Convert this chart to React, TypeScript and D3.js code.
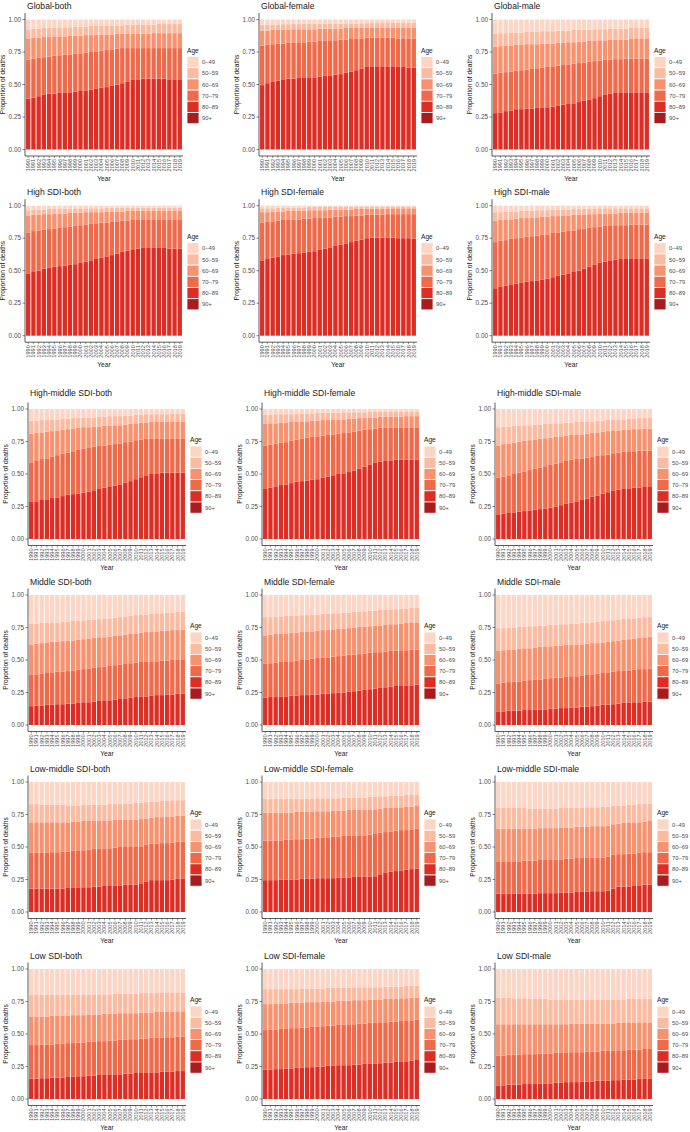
import React from 'react';
import * as d3 from 'd3';

// Proportion of deaths by age group, stacked per year (1990-2019)
const years = [
  1990, 1991, 1992, 1993, 1994, 1995, 1996, 1997, 1998, 1999,
  2000, 2001, 2002, 2003, 2004, 2005, 2006, 2007, 2008, 2009,
  2010, 2011, 2012, 2013, 2014, 2015, 2016, 2017, 2018, 2019,
];

const ageGroups = ['0–49', '50–59', '60–69', '70–79', '80–89', '90+'];
const ageColors = ['#FCD5C5', '#FABBA1', '#F6926F', '#EE6A4B', '#DD2E26', '#A81B1F'];
const yTicks = [0, 0.25, 0.5, 0.75, 1];

// cumulative tops, bottom up: [80-89 top, 70-79 top, 60-69 top, 50-59 top]; 0-49 fills to 1
const globalBoth = [
  [.39, .40, .41, .42, .43, .43, .435, .435, .44, .445, .45, .455, .46, .47, .475, .48, .49, .50, .51, .52, .535, .54, .545, .545, .545, .545, .545, .54, .54, .54],
  [.69, .70, .705, .71, .715, .72, .725, .73, .73, .735, .74, .745, .75, .755, .76, .765, .77, .775, .78, .78, .78, .78, .78, .78, .78, .78, .78, .78, .78, .78],
  [.855, .86, .86, .865, .865, .87, .87, .87, .875, .875, .875, .88, .88, .88, .885, .885, .885, .89, .89, .89, .89, .89, .89, .89, .895, .895, .895, .895, .895, .895],
  [.925, .93, .93, .935, .935, .935, .94, .94, .94, .945, .945, .945, .95, .95, .95, .955, .955, .955, .955, .96, .96, .96, .96, .96, .96, .965, .965, .965, .965, .965],
];
const globalFemale = [
  [.495, .51, .52, .53, .54, .545, .545, .55, .55, .55, .555, .56, .565, .57, .575, .58, .59, .60, .61, .62, .635, .635, .64, .64, .64, .64, .635, .635, .63, .63],
  [.80, .805, .81, .815, .815, .82, .82, .825, .825, .83, .83, .835, .835, .84, .84, .845, .845, .85, .855, .855, .86, .86, .86, .86, .86, .86, .855, .855, .855, .855],
  [.915, .915, .92, .92, .92, .92, .925, .925, .925, .925, .925, .93, .93, .93, .93, .93, .935, .935, .935, .935, .935, .935, .935, .935, .935, .935, .935, .935, .935, .935],
  [.96, .96, .962, .962, .964, .964, .965, .965, .966, .966, .967, .967, .968, .968, .969, .969, .97, .97, .97, .971, .972, .972, .973, .973, .973, .974, .974, .974, .975, .975],
];
const globalMale = [
  [.28, .285, .295, .30, .31, .31, .315, .315, .32, .32, .325, .33, .34, .345, .35, .355, .365, .375, .385, .395, .41, .42, .43, .435, .44, .44, .44, .44, .44, .44],
  [.585, .59, .595, .60, .605, .61, .615, .62, .625, .63, .635, .64, .645, .65, .655, .66, .665, .67, .675, .68, .685, .69, .69, .695, .695, .70, .70, .70, .70, .70],
  [.79, .795, .80, .80, .805, .805, .81, .81, .81, .815, .815, .815, .82, .82, .825, .825, .83, .83, .835, .835, .84, .84, .845, .845, .845, .845, .85, .85, .85, .85],
  [.89, .895, .895, .90, .90, .90, .905, .905, .905, .91, .91, .91, .915, .915, .915, .92, .92, .92, .92, .925, .925, .925, .93, .93, .93, .93, .935, .935, .935, .935],
];
const highBoth = [
  [.475, .49, .50, .515, .525, .53, .535, .54, .545, .55, .56, .57, .58, .59, .60, .61, .62, .63, .645, .655, .665, .67, .675, .675, .675, .675, .675, .67, .67, .67],
  [.795, .805, .81, .815, .82, .825, .83, .835, .84, .845, .85, .855, .86, .865, .87, .87, .875, .88, .885, .885, .89, .89, .89, .89, .89, .89, .89, .89, .89, .89],
  [.925, .93, .93, .935, .935, .94, .94, .94, .945, .945, .945, .95, .95, .95, .95, .955, .955, .955, .955, .96, .96, .96, .96, .96, .96, .96, .96, .96, .96, .96],
  [.965, .97, .97, .97, .975, .975, .975, .975, .975, .98, .98, .98, .98, .98, .98, .985, .985, .985, .985, .985, .985, .985, .985, .985, .985, .985, .985, .985, .985, .985],
];
const highFemale = [
  [.575, .59, .60, .61, .62, .625, .63, .635, .64, .645, .65, .66, .67, .68, .69, .70, .71, .72, .73, .74, .75, .755, .755, .755, .755, .755, .75, .75, .75, .745],
  [.87, .875, .88, .885, .89, .89, .895, .895, .90, .90, .905, .905, .91, .91, .915, .915, .92, .92, .925, .925, .93, .93, .93, .93, .935, .935, .935, .935, .935, .935],
  [.95, .95, .955, .955, .955, .96, .96, .96, .96, .965, .965, .965, .965, .97, .97, .97, .97, .97, .975, .975, .975, .975, .975, .975, .975, .98, .98, .98, .98, .98],
  [.98, .98, .98, .985, .985, .985, .985, .985, .985, .99, .99, .99, .99, .99, .99, .99, .99, .99, .99, .99, .99, .99, .99, .99, .99, .99, .99, .99, .99, .99],
];
const highMale = [
  [.365, .375, .385, .395, .40, .41, .415, .42, .425, .43, .44, .45, .46, .47, .48, .49, .50, .515, .53, .545, .56, .57, .58, .585, .59, .59, .59, .595, .595, .595],
  [.72, .73, .735, .745, .75, .755, .76, .765, .77, .775, .78, .79, .795, .80, .805, .81, .82, .825, .83, .835, .84, .845, .85, .85, .85, .85, .855, .855, .855, .855],
  [.885, .89, .895, .895, .90, .905, .905, .91, .91, .915, .915, .92, .92, .925, .925, .93, .93, .93, .935, .935, .94, .94, .94, .94, .945, .945, .945, .945, .945, .945],
  [.95, .95, .955, .955, .955, .96, .96, .96, .965, .965, .965, .97, .97, .97, .97, .975, .975, .975, .975, .975, .98, .98, .98, .98, .98, .98, .98, .98, .98, .98],
];
const highMiddleBoth = [
  [.285, .29, .30, .305, .315, .32, .33, .34, .345, .35, .355, .365, .375, .385, .395, .40, .41, .42, .435, .445, .46, .475, .49, .50, .505, .51, .51, .51, .51, .51],
  [.59, .60, .615, .62, .635, .645, .655, .665, .675, .685, .695, .70, .71, .715, .72, .725, .73, .735, .745, .75, .76, .765, .77, .77, .77, .77, .77, .77, .77, .77],
  [.81, .815, .82, .825, .83, .835, .84, .845, .85, .855, .86, .86, .865, .865, .87, .87, .875, .875, .88, .885, .89, .895, .895, .90, .90, .90, .90, .90, .90, .90],
  [.91, .91, .915, .915, .92, .92, .925, .925, .93, .93, .935, .935, .935, .94, .94, .945, .945, .945, .95, .95, .955, .955, .96, .96, .96, .96, .96, .965, .965, .965],
];
const highMiddleFemale = [
  [.385, .395, .405, .415, .42, .43, .44, .445, .45, .455, .46, .47, .48, .49, .50, .505, .515, .525, .54, .555, .57, .585, .595, .60, .605, .61, .61, .61, .61, .61],
  [.72, .725, .735, .74, .745, .755, .765, .77, .78, .785, .79, .795, .80, .805, .81, .815, .82, .825, .835, .84, .845, .85, .855, .855, .855, .855, .855, .855, .855, .855],
  [.885, .89, .89, .895, .895, .90, .90, .905, .905, .91, .91, .915, .915, .92, .92, .92, .925, .925, .93, .93, .935, .935, .94, .94, .94, .94, .94, .945, .945, .945],
  [.955, .955, .96, .96, .96, .96, .965, .965, .965, .965, .97, .97, .97, .97, .97, .975, .975, .975, .975, .975, .98, .98, .98, .98, .98, .98, .98, .98, .98, .98],
];
const highMiddleMale = [
  [.19, .195, .20, .205, .21, .215, .22, .225, .23, .235, .24, .25, .26, .27, .28, .29, .30, .31, .325, .335, .35, .36, .37, .38, .39, .39, .395, .395, .40, .40],
  [.47, .48, .49, .50, .51, .52, .53, .54, .55, .56, .57, .58, .59, .60, .61, .615, .62, .625, .63, .64, .645, .65, .66, .665, .67, .675, .675, .68, .68, .68],
  [.72, .73, .735, .74, .75, .755, .76, .765, .77, .775, .78, .785, .79, .795, .80, .80, .805, .81, .815, .82, .825, .83, .835, .835, .84, .84, .845, .845, .85, .85],
  [.86, .865, .865, .87, .87, .875, .875, .88, .88, .885, .885, .89, .89, .895, .895, .90, .90, .905, .905, .91, .91, .915, .915, .92, .92, .925, .925, .93, .93, .93],
];
const middleBoth = [
  [.145, .15, .15, .155, .155, .16, .16, .165, .165, .17, .175, .175, .18, .185, .19, .19, .195, .20, .205, .21, .215, .22, .22, .225, .23, .23, .235, .235, .24, .24],
  [.385, .39, .395, .40, .405, .41, .41, .415, .42, .425, .43, .435, .44, .445, .45, .455, .46, .465, .47, .475, .48, .485, .485, .49, .49, .495, .495, .50, .50, .50],
  [.62, .625, .63, .635, .64, .64, .645, .65, .65, .655, .66, .665, .67, .675, .675, .68, .685, .69, .695, .70, .705, .71, .715, .715, .72, .725, .725, .73, .73, .735],
  [.78, .78, .785, .785, .79, .79, .795, .795, .80, .80, .805, .81, .81, .815, .82, .82, .825, .83, .835, .84, .845, .85, .85, .855, .86, .86, .865, .865, .87, .87],
];
const middleFemale = [
  [.21, .215, .215, .22, .22, .225, .225, .23, .23, .235, .235, .24, .24, .245, .25, .25, .255, .26, .265, .27, .275, .28, .285, .29, .295, .30, .30, .305, .305, .31],
  [.47, .475, .48, .485, .49, .49, .495, .50, .505, .51, .515, .52, .52, .525, .53, .535, .54, .54, .545, .55, .555, .56, .56, .565, .57, .57, .575, .575, .58, .58],
  [.69, .695, .70, .70, .705, .71, .71, .715, .72, .72, .725, .73, .73, .735, .74, .74, .745, .75, .755, .755, .76, .765, .765, .77, .775, .775, .78, .785, .785, .79],
  [.83, .83, .835, .835, .84, .84, .84, .845, .845, .85, .85, .855, .855, .86, .86, .865, .865, .87, .87, .875, .88, .88, .885, .885, .89, .89, .895, .895, .90, .90],
];
const middleMale = [
  [.105, .105, .11, .11, .11, .115, .115, .12, .12, .12, .125, .125, .13, .13, .135, .135, .14, .14, .145, .15, .155, .155, .16, .165, .17, .17, .175, .175, .18, .18],
  [.32, .325, .33, .335, .335, .34, .345, .35, .35, .355, .36, .365, .365, .37, .375, .375, .38, .385, .39, .395, .40, .405, .41, .415, .42, .42, .425, .43, .43, .435],
  [.57, .575, .58, .58, .585, .59, .59, .595, .60, .60, .605, .61, .61, .615, .615, .62, .62, .625, .63, .63, .635, .64, .645, .65, .655, .66, .665, .67, .675, .68],
  [.745, .745, .75, .75, .755, .755, .76, .76, .765, .765, .77, .77, .775, .775, .78, .78, .785, .785, .79, .795, .80, .80, .805, .81, .815, .82, .82, .825, .83, .83],
];
const lowMiddleBoth = [
  [.18, .18, .18, .18, .18, .18, .18, .185, .185, .19, .19, .19, .195, .195, .20, .20, .205, .205, .21, .21, .21, .215, .235, .245, .245, .245, .245, .25, .255, .255],
  [.455, .455, .455, .455, .46, .46, .465, .465, .47, .475, .475, .48, .485, .485, .49, .49, .495, .50, .50, .50, .50, .505, .52, .525, .525, .53, .53, .535, .54, .54],
  [.69, .69, .69, .69, .69, .69, .69, .69, .695, .695, .70, .70, .70, .705, .705, .705, .71, .71, .71, .71, .71, .715, .72, .725, .73, .73, .735, .735, .74, .74],
  [.83, .83, .825, .825, .825, .825, .825, .82, .82, .82, .825, .825, .825, .825, .825, .83, .83, .83, .835, .835, .84, .84, .845, .85, .85, .855, .855, .86, .86, .86],
];
const lowMiddleFemale = [
  [.245, .245, .245, .25, .25, .25, .25, .255, .255, .255, .26, .26, .26, .26, .265, .265, .265, .27, .27, .27, .27, .275, .29, .305, .31, .315, .32, .325, .33, .335],
  [.55, .55, .55, .55, .555, .555, .56, .56, .565, .565, .57, .57, .575, .58, .58, .585, .585, .59, .59, .59, .595, .60, .61, .615, .62, .625, .63, .63, .635, .64],
  [.765, .765, .765, .765, .765, .765, .77, .77, .77, .77, .775, .775, .775, .78, .78, .78, .785, .785, .785, .785, .79, .79, .795, .80, .80, .805, .805, .81, .81, .815],
  [.87, .87, .87, .87, .87, .87, .87, .87, .87, .87, .875, .875, .875, .875, .875, .88, .88, .88, .88, .88, .885, .885, .89, .89, .895, .895, .895, .90, .90, .905],
];
const lowMiddleMale = [
  [.14, .14, .14, .14, .14, .14, .14, .14, .145, .145, .145, .145, .15, .15, .15, .155, .155, .155, .16, .16, .16, .165, .18, .195, .195, .195, .20, .205, .21, .21],
  [.39, .39, .39, .39, .39, .395, .395, .395, .40, .40, .40, .405, .405, .41, .41, .415, .415, .42, .42, .42, .42, .425, .44, .445, .445, .45, .45, .455, .46, .46],
  [.64, .64, .64, .64, .64, .64, .64, .64, .645, .645, .645, .645, .65, .65, .65, .655, .655, .655, .66, .66, .66, .665, .675, .68, .685, .685, .69, .69, .695, .70],
  [.80, .80, .80, .80, .80, .80, .795, .795, .795, .795, .795, .795, .80, .80, .80, .80, .80, .805, .805, .805, .81, .81, .815, .82, .82, .825, .825, .83, .835, .835],
];
const lowBoth = [
  [.155, .155, .16, .16, .165, .165, .165, .17, .17, .175, .175, .18, .18, .185, .185, .19, .19, .19, .195, .195, .20, .20, .20, .205, .205, .21, .21, .21, .215, .215],
  [.415, .415, .42, .42, .42, .425, .425, .43, .43, .435, .435, .44, .44, .445, .445, .45, .45, .455, .455, .46, .46, .465, .465, .47, .47, .47, .475, .475, .48, .48],
  [.635, .635, .635, .635, .64, .64, .64, .64, .645, .645, .645, .65, .65, .65, .655, .655, .655, .66, .66, .66, .66, .665, .665, .665, .67, .67, .67, .67, .675, .675],
  [.80, .80, .80, .80, .80, .80, .80, .80, .80, .80, .80, .80, .805, .805, .805, .805, .81, .81, .81, .81, .81, .815, .815, .815, .815, .82, .82, .82, .82, .82],
];
const lowFemale = [
  [.225, .225, .23, .23, .235, .235, .24, .24, .245, .245, .25, .25, .255, .255, .26, .26, .26, .265, .265, .27, .27, .27, .275, .28, .28, .285, .285, .29, .295, .30],
  [.53, .535, .535, .54, .54, .545, .545, .55, .55, .555, .555, .56, .565, .565, .57, .57, .575, .575, .58, .58, .585, .585, .59, .59, .595, .595, .60, .60, .605, .61],
  [.73, .73, .735, .735, .735, .74, .74, .74, .745, .745, .745, .75, .75, .75, .755, .755, .755, .76, .76, .76, .765, .765, .765, .77, .77, .77, .775, .775, .78, .78],
  [.845, .845, .845, .845, .845, .845, .845, .85, .85, .85, .85, .85, .855, .855, .855, .855, .855, .86, .86, .86, .86, .86, .86, .865, .865, .865, .865, .87, .87, .87],
];
const lowMale = [
  [.105, .105, .11, .11, .11, .115, .115, .115, .12, .12, .12, .125, .125, .13, .13, .13, .135, .135, .135, .14, .14, .14, .145, .145, .15, .15, .15, .155, .155, .155],
  [.335, .335, .34, .34, .34, .345, .345, .345, .35, .35, .35, .355, .355, .355, .36, .36, .36, .365, .365, .365, .37, .37, .37, .375, .375, .38, .38, .38, .385, .385],
  [.575, .575, .575, .575, .575, .575, .575, .575, .575, .575, .575, .575, .575, .575, .58, .58, .58, .58, .58, .58, .58, .58, .58, .585, .585, .585, .585, .59, .59, .59],
  [.78, .78, .78, .775, .775, .775, .77, .77, .77, .77, .765, .765, .765, .765, .765, .765, .765, .765, .765, .765, .765, .765, .765, .765, .765, .77, .77, .77, .77, .77],
];

const panelTitles = [
  'Global-both', 'Global-female', 'Global-male',
  'High SDI-both', 'High SDI-female', 'High SDI-male',
  'High-middle SDI-both', 'High-middle SDI-female', 'High-middle SDI-male',
  'Middle SDI-both', 'Middle SDI-female', 'Middle SDI-male',
  'Low-middle SDI-both', 'Low-middle SDI-female', 'Low-middle SDI-male',
  'Low SDI-both', 'Low SDI-female', 'Low SDI-male',
];
const panelData = [
  globalBoth, globalFemale, globalMale,
  highBoth, highFemale, highMale,
  highMiddleBoth, highMiddleFemale, highMiddleMale,
  middleBoth, middleFemale, middleMale,
  lowMiddleBoth, lowMiddleFemale, lowMiddleMale,
  lowBoth, lowFemale, lowMale,
];

// layout (pixel positions of each row's 1.00 line and each column's y axis)
const rowTops = [19.5, 205.7, 409, 595, 782, 969];
const colAxisX = [[25, 259, 492], [25, 259, 492], [28, 262, 495], [28, 262, 495], [28, 262, 495], [28, 262, 495]];
const PLOT_H = 130;
const PLOT_W = 158;
const FONT = '"Liberation Sans", Arial, Helvetica, sans-serif';

// fill colour for each stacked layer, bottom to top
const layerColors = [ageColors[4], ageColors[3], ageColors[2], ageColors[1], ageColors[0]];

function Panel({ title, data, x0, top, titleGap }: { title: string; data: number[][]; x0: number; top: number; titleGap: number }) {
  const y = d3.scaleLinear().domain([0, 1]).range([top + PLOT_H, top]);
  const x = d3.scaleBand<number>()
    .domain(years)
    .range([x0, x0 + PLOT_W])
    .paddingInner(0.17)
    .paddingOuter(0.2);
  const fmt = d3.format('.2f');
  const axisTop = y(1.05);
  const axisBottom = y(-0.05);
  const legendX = x0 + PLOT_W + 4;
  const keyH = 11.2;
  const keyTop = top + 37;

  return (
    <g>
      <text x={x0 + 2} y={top - titleGap} fontSize={8.6} fill="#1a1a1a" fontFamily={FONT}>{title}</text>
      {years.map((yr, i) => {
        const bounds = [0, data[0][i], data[1][i], data[2][i], data[3][i], 1];
        return (
          <g key={yr}>
            {layerColors.map((c, k) => (
              <rect
                key={k}
                x={x(yr)}
                width={x.bandwidth()}
                y={y(bounds[k + 1])}
                height={y(bounds[k]) - y(bounds[k + 1])}
                fill={c}
              />
            ))}
          </g>
        );
      })}
      {/* y axis */}
      <line x1={x0} x2={x0} y1={axisTop} y2={axisBottom} stroke="#333" strokeWidth={0.8} />
      {yTicks.map(t => (
        <g key={t}>
          <line x1={x0 - 2.5} x2={x0} y1={y(t)} y2={y(t)} stroke="#333" strokeWidth={0.6} />
          <text x={x0 - 4} y={y(t)} dy="0.35em" textAnchor="end" fontSize={6.4} fill="#4d4d4d" fontFamily={FONT}>{fmt(t)}</text>
        </g>
      ))}
      <text
        transform={`translate(${x0 - 20},${top + PLOT_H / 2}) rotate(-90)`}
        textAnchor="middle"
        fontSize={6.6}
        fill="#1a1a1a"
        fontFamily={FONT}
      >Proportion of deaths</text>
      {/* x axis */}
      <line x1={x0} x2={x0 + PLOT_W} y1={axisBottom} y2={axisBottom} stroke="#333" strokeWidth={0.8} />
      {years.map(yr => {
        const cx = (x(yr) as number) + x.bandwidth() / 2;
        return (
          <g key={yr}>
            <line x1={cx} x2={cx} y1={axisBottom} y2={axisBottom + 2} stroke="#333" strokeWidth={0.5} />
            <text
              transform={`translate(${cx},${axisBottom + 3}) rotate(-90)`}
              dy="0.35em"
              textAnchor="end"
              fontSize={5.6}
              fill="#4d4d4d"
              fontFamily={FONT}
            >{yr}</text>
          </g>
        );
      })}
      <text x={x0 + PLOT_W / 2} y={top + 161} textAnchor="middle" fontSize={6.6} fill="#1a1a1a" fontFamily={FONT}>Year</text>
      {/* legend */}
      <text x={legendX} y={top + 33} fontSize={6.6} fill="#1a1a1a" fontFamily={FONT}>Age</text>
      {ageGroups.map((g, k) => (
        <g key={g}>
          <rect x={legendX} y={keyTop + k * keyH} width={12} height={keyH} fill={ageColors[k]} stroke="#fff" strokeWidth={0.8} />
          <text x={legendX + 15} y={keyTop + k * keyH + keyH / 2} dy="0.35em" fontSize={5.8} fill="#4d4d4d" fontFamily={FONT}>{g}</text>
        </g>
      ))}
    </g>
  );
}

export default function App() {
  return (
    <svg
      width={690}
      height={1132}
      style={{ position: 'absolute', left: 0, top: 0, background: '#fff' }}
    >
      {panelTitles.map((t, idx) => {
        const row = Math.floor(idx / 3);
        const col = idx % 3;
        return (
          <Panel
            key={t}
            title={t}
            data={panelData[idx]}
            x0={colAxisX[row][col]}
            top={rowTops[row]}
            titleGap={row === 2 ? 13 : 10.5}
          />
        );
      })}
    </svg>
  );
}
